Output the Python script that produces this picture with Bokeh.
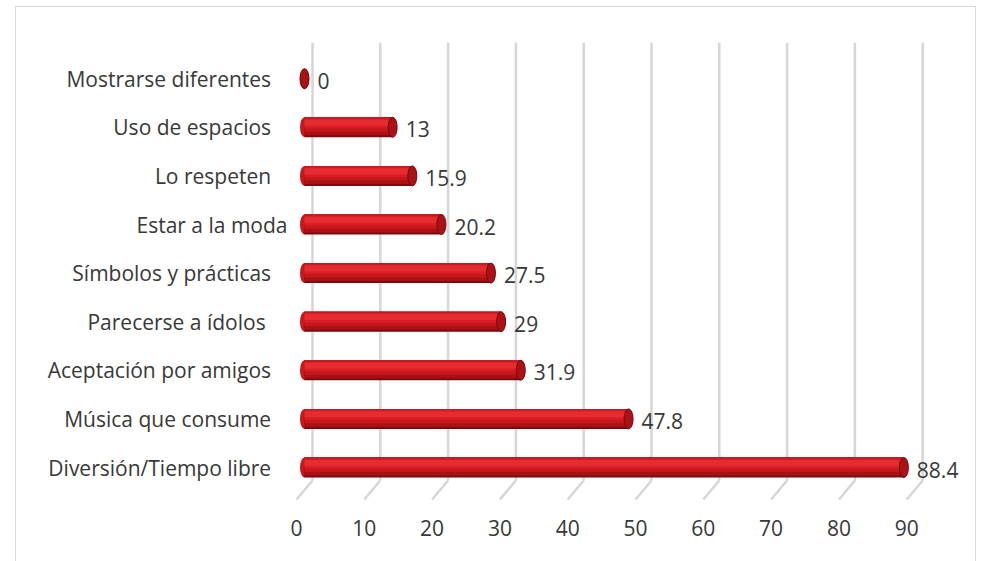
from bokeh.plotting import figure
from bokeh.models import Range1d, LinearAxis, FixedTicker, ColumnDataSource
from bokeh.core.properties import value
from bokeh.embed import file_html
from bokeh.resources import INLINE

# ---- data (bottom to top) ----
categories = [
    "Diversión/Tiempo libre\u00a0\u00a0\u00a0",
    "Música que consume\u00a0\u00a0\u00a0",
    "Aceptación por amigos\u00a0\u00a0\u00a0",
    "Parecerse a ídolos\u00a0\u00a0\u00a0\u00a0",
    "Símbolos y prácticas\u00a0\u00a0\u00a0",
    "Estar a la moda",
    "Lo respeten\u00a0\u00a0\u00a0",
    "Uso de espacios\u00a0\u00a0\u00a0",
    "Mostrarse diferentes\u00a0\u00a0\u00a0",
]
values = [88.4, 47.8, 31.9, 29, 27.5, 20.2, 15.9, 13, 0]
value_labels = ["88.4", "47.8", "31.9", "29", "27.5", "20.2", "15.9", "13", "0"]
x_ticks = [0, 10, 20, 30, 40, 50, 60, 70, 80, 90]

# ---- style / layout constants ----
FONT = "Open Sans"
FS = "21px"
TXT = "#383838"
OX, OY = 16, 7                              # figure offset inside the page (chart border)
W, HT = 975 - OX, 561 - OY                  # figure size
FL, FR, FT, FB = 292, 970, 42, 500          # frame edges in page px
PXU = 6.78                                  # px per x unit
X0PX = 304                                  # page px of x = 0 (bar plane)
xs = -(X0PX - FL) / PXU
xe = (FR - X0PX) / PXU
DEPTH = 8 / PXU                             # 3D depth shift (x units)
BAND = 48.6                                 # px per category
ys = -33 / BAND
ye = ys + (FB - FT) / BAND
H = 20 / BAND                               # bar thickness (y units)
CAP_W = 9 / PXU

idx = list(range(len(categories)))

p = figure(width=W, height=HT, output_backend="svg", toolbar_location=None,
           x_range=Range1d(xs, xe), y_range=Range1d(ys, ye),
           min_border_left=FL - OX, min_border_right=975 - FR,
           min_border_top=FT - OY, min_border_bottom=561 - FB,
           x_axis_location=None, y_axis_location="left")
p.margin = (OY, 0, 0, OX)
p.styles = {"outline": "1.5px solid #d9d9d9"}
p.outline_line_color = None
p.background_fill_color = "white"
p.border_fill_color = "white"
p.xgrid.visible = False
p.ygrid.visible = False

# extra ranges: front plane for x labels, page px for y decorations
p.extra_x_ranges = {"front": Range1d(xs + DEPTH, xe + DEPTH)}
p.extra_y_ranges = {"screen": Range1d(FB, FT)}

xaxis = LinearAxis(x_range_name="front", ticker=FixedTicker(ticks=x_ticks))
xaxis.axis_line_color = None
xaxis.major_tick_line_color = None
xaxis.minor_tick_line_color = None
xaxis.major_tick_out = 0
xaxis.major_tick_in = 0
xaxis.major_label_standoff = 19
xaxis.major_label_text_font = FONT
xaxis.major_label_text_font_size = FS
xaxis.major_label_text_color = TXT
p.add_layout(xaxis, "below")

ya = p.yaxis[0]
ya.ticker = FixedTicker(ticks=idx)
ya.major_label_overrides = {i: c for i, c in zip(idx, categories)}
ya.axis_line_color = None
ya.major_tick_line_color = None
ya.minor_tick_line_color = None
ya.major_tick_out = 0
ya.major_tick_in = 0
ya.major_label_standoff = 5
ya.major_label_text_font = FONT
ya.major_label_text_font_size = FS
ya.major_label_text_color = TXT

# back-wall gridlines and floor diagonals
back_x = [t + DEPTH for t in x_ticks]
front_x = [t - DEPTH for t in x_ticks]
p.segment(x0=back_x, x1=back_x, y0=[FT] * len(x_ticks), y1=[480] * len(x_ticks),
          y_range_name="screen", line_color="#d6d6d6", line_width=2.5)
p.segment(x0=back_x, x1=front_x, y0=[480] * len(x_ticks), y1=[499] * len(x_ticks),
          y_range_name="screen", line_color="#d6d6d6", line_width=2.5)

src = ColumnDataSource(dict(y=idx, v=values, lab=value_labels))

# left rounded ends
p.ellipse(x=0, y="y", width=CAP_W, height=H, source=src,
          fill_color="#c8181e", line_color=None)

# cylinder body with shading bands (fractions from top)
bands = [(0.0, 1.0, "#7e090c"), (0.0, 0.9, "#a81216"), (0.0, 0.72, "#c6171d"),
         (0.0, 0.55, "#d81e24"), (0.12, 0.42, "#e62b31"), (0.0, 0.07, "#c21a1f")]
for a, b, col in bands:
    yc = [i + H / 2 - (a + b) / 2 * H for i in idx]
    p.hbar(y=yc, left=0, right=values, height=(b - a) * H,
           fill_color=col, line_color=None)

# right caps
p.ellipse(x="v", y="y", width=CAP_W, height=H, source=src,
          fill_color="#a91217", line_color="#760809", line_width=1)

# value labels
p.text(x="v", y="y", text="lab", source=src, x_offset=13, y_offset=2,
       text_baseline="middle", text_align="left",
       text_font=value(FONT), text_font_size=FS, text_color=TXT)

open("out.html", "w").write(file_html(p, INLINE))
